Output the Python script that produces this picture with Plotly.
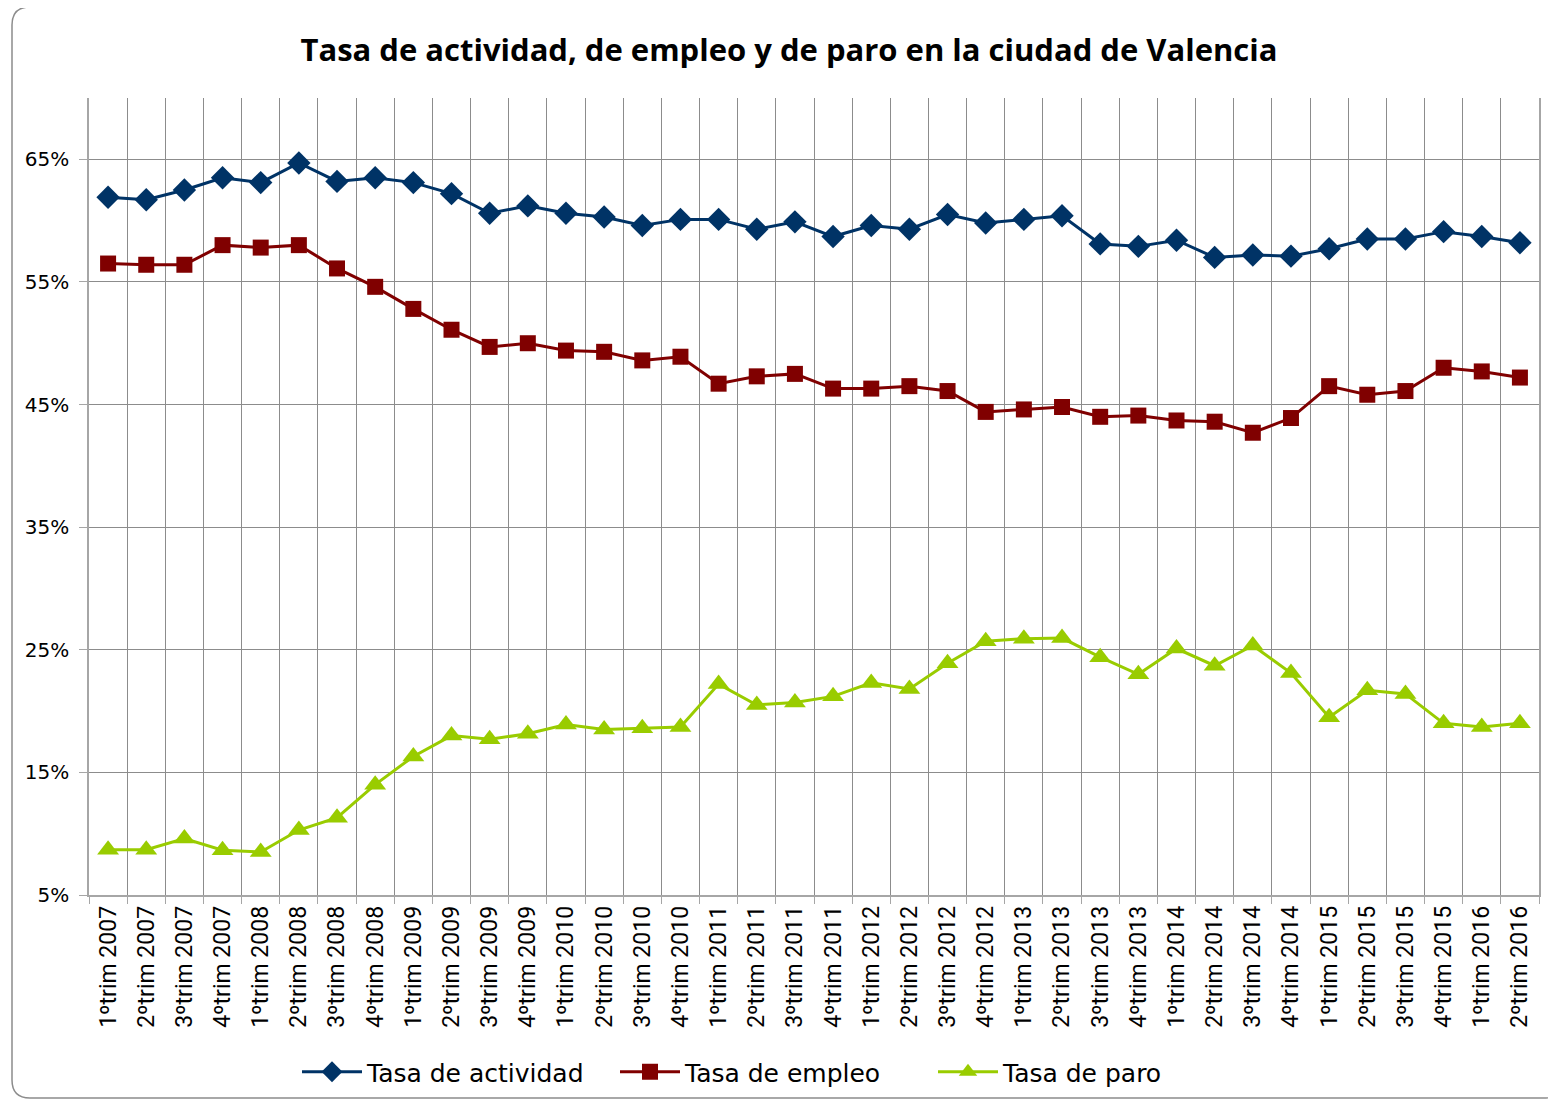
import plotly.graph_objects as go

quarters = ["1ºtrim", "2ºtrim", "3ºtrim", "4ºtrim"]
categories = []
for year in range(2007, 2017):
    for q in quarters:
        categories.append(f"{q} {year}")
categories = categories[:38]

tasa_actividad = [61.9, 61.7, 62.5, 63.5, 63.1, 64.7, 63.2, 63.5, 63.1, 62.2,
                  60.6, 61.2, 60.6, 60.3, 59.6, 60.1, 60.1, 59.3, 59.9, 58.7,
                  59.6, 59.3, 60.5, 59.8, 60.1, 60.4, 58.1, 57.9, 58.4, 57.0,
                  57.2, 57.1, 57.7, 58.5, 58.5, 59.1, 58.7, 58.2]
tasa_empleo = [56.5, 56.4, 56.4, 58.0, 57.8, 58.0, 56.1, 54.6, 52.8, 51.1,
               49.7, 50.0, 49.4, 49.3, 48.6, 48.9, 46.7, 47.3, 47.5, 46.3,
               46.3, 46.5, 46.1, 44.4, 44.6, 44.8, 44.0, 44.1, 43.7, 43.6,
               42.7, 43.9, 46.5, 45.8, 46.1, 48.0, 47.7, 47.2]
tasa_paro = [8.7, 8.7, 9.6, 8.65, 8.5, 10.3, 11.3, 14.0, 16.3, 18.0,
             17.7, 18.15, 18.9, 18.5, 18.6, 18.7, 22.2, 20.5, 20.7, 21.2,
             22.3, 21.8, 23.9, 25.7, 25.9, 25.95, 24.4, 23.0, 25.1, 23.7,
             25.35, 23.1, 19.5, 21.7, 21.4, 19.0, 18.7, 19.0]

# page body has an 8px margin: the figure starts at (8, 8) of the viewport
OFF = 8
W, H = 1556 - OFF, 1100 - OFF
PL, PR, PT, PB = 89, 1539, 98, 895          # plot area in viewport pixels
ML, MR, MT, MB = PL - OFF, 1556 - PR, PT - OFF, 1100 - PB
PW, PH = W - ML - MR, H - MT - MB

fig = go.Figure()
fig.add_trace(go.Scatter(x=categories, y=tasa_actividad, name="Tasa de actividad",
                         mode="lines+markers",
                         line=dict(color="#003366", width=3),
                         marker=dict(symbol="diamond", size=18, color="#003366")))
fig.add_trace(go.Scatter(x=categories, y=tasa_empleo, name="Tasa de empleo",
                         mode="lines+markers",
                         line=dict(color="#800000", width=3),
                         marker=dict(symbol="square", size=16, color="#800000")))
fig.add_trace(go.Scatter(x=categories, y=tasa_paro, name="Tasa de paro",
                         mode="lines+markers",
                         line=dict(color="#99CC00", width=3),
                         marker=dict(symbol="triangle-up", size=19, color="#99CC00")))


def px2paper(px, py):
    return (px - PL) / PW, (PB - py) / PH


def px2container(px, py):
    return (px - OFF) / W, 1 - (py - OFF) / H


# rounded chart-area border
x0, y0 = px2paper(12, 7)
x1, y1 = px2paper(1562, 1098)
rx, ry = 18 / PW, 18 / PH
path = (f"M {x0+rx},{y0} L {x1-rx},{y0} Q {x1},{y0} {x1},{y0-ry} "
        f"L {x1},{y1+ry} Q {x1},{y1} {x1-rx},{y1} "
        f"L {x0+rx},{y1} Q {x0},{y1} {x0},{y1+ry} "
        f"L {x0},{y0-ry} Q {x0},{y0} {x0+rx},{y0} Z")
fig.add_shape(type="path", path=path, xref="paper", yref="paper",
              line=dict(color="#8c8c8c", width=1.5), layer="below")

lx, ly = px2container(297, 1072)
tx, ty = px2container(789, 50)

fig.update_layout(
    width=W, height=H,
    margin=dict(l=ML, r=MR, t=MT, b=MB, autoexpand=False),
    paper_bgcolor="white", plot_bgcolor="white",
    title=dict(text="<b>Tasa de actividad, de empleo y de paro en la ciudad de Valencia</b>",
               x=tx, xref="container", xanchor="center",
               y=ty, yref="container", yanchor="middle",
               font=dict(family="Open Sans", size=31, color="black")),
    showlegend=True,
    legend=dict(orientation="h", x=lx, xref="container", xanchor="left",
                y=ly, yref="container", yanchor="middle",
                font=dict(family="DejaVu Sans", size=25, color="black"),
                itemwidth=60, entrywidth=243, entrywidthmode="pixels"),
    xaxis=dict(type="category", tickson="boundaries", showgrid=True,
               gridcolor="#8c8c8c", gridwidth=1,
               showline=True, linecolor="#a6a6a6", linewidth=1.5,
               ticks="outside", ticklen=7, tickcolor="#a6a6a6",
               tickangle=-90, range=[-0.5, 37.5], automargin=False,
               tickfont=dict(family="Roboto", size=23, color="black")),
    yaxis=dict(range=[5, 70], tick0=5, dtick=10, ticksuffix="%",
               showgrid=True, gridcolor="#8c8c8c", gridwidth=1,
               showline=True, linecolor="#a6a6a6", linewidth=1.5, mirror=True,
               ticks="outside", ticklen=8, tickcolor="#a6a6a6",
               ticklabelstandoff=6, automargin=False,
               zeroline=False,
               tickfont=dict(family="DejaVu Sans", size=20, color="black")),
)

fig.write_html("out.html")
